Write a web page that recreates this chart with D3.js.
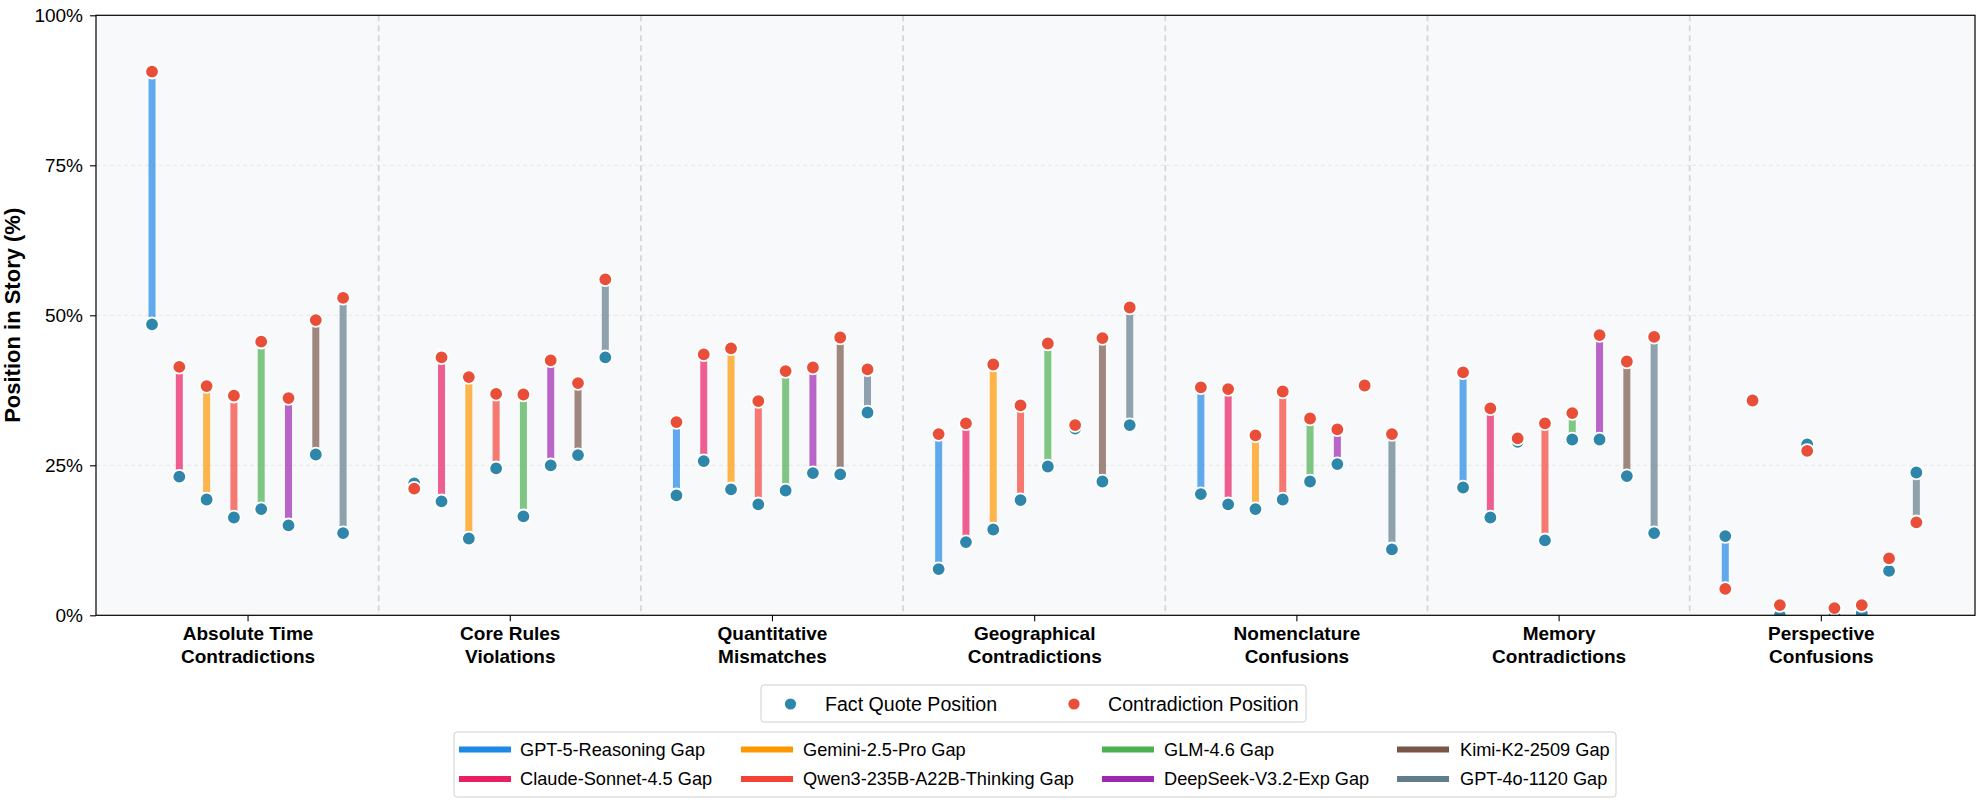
<!DOCTYPE html>
<html>
<head>
<meta charset="utf-8">
<script src="https://cdn.jsdelivr.net/npm/d3@7/dist/d3.min.js"></script>
<style>
  html, body { margin: 0; padding: 0; background: #ffffff; }
  svg { display: block; font-family: "Liberation Sans", Arial, Helvetica, sans-serif; }
</style>
</head>
<body>
<svg id="chart" width="1981" height="804"></svg>
<script>
// ---------------- DATA ----------------
const categories = [
  "Absolute Time\nContradictions",
  "Core Rules\nViolations",
  "Quantitative\nMismatches",
  "Geographical\nContradictions",
  "Nomenclature\nConfusions",
  "Memory\nContradictions",
  "Perspective\nConfusions"
];
const models = [
  "GPT-5-Reasoning", "Claude-Sonnet-4.5", "Gemini-2.5-Pro", "Qwen3-235B-A22B-Thinking",
  "GLM-4.6", "DeepSeek-V3.2-Exp", "Kimi-K2-2509", "GPT-4o-1120"
];
const modelColors = ["#1E88E5", "#E91E63", "#FF9800", "#F44336", "#4CAF50", "#9C27B0", "#795548", "#607D8B"];

// Fact quote position (%) per model, one value per category
const factPos = [
  [48.5, 22.0, 20.0,  7.7, 20.2, 21.3, 13.2],
  [23.1, 19.0, 25.7, 12.2, 18.5, 16.3, 35.8],
  [19.3, 12.8, 21.0, 14.3, 17.7, 28.9,  0.0],
  [16.3, 24.5, 18.5, 19.2, 19.3, 12.5, 28.5],
  [17.7, 16.5, 20.8, 24.8, 22.3, 29.3,  0.0],
  [15.0, 25.0, 23.7, 31.1, 25.2, 29.3,  0.3],
  [26.8, 26.7, 23.5, 22.3, 38.3, 23.2,  7.4],
  [13.7, 43.0, 33.8, 31.7, 11.0, 13.7, 23.8]
];
// Contradiction position (%) per model, one value per category
const contraPos = [
  [90.6, 21.1, 32.2, 30.2, 38.0, 40.5,  4.4],
  [41.4, 43.0, 43.5, 32.0, 37.7, 34.5, 35.8],
  [38.2, 39.7, 44.5, 41.8, 30.0, 29.5,  1.7],
  [36.6, 36.9, 35.7, 35.0, 37.3, 32.0, 27.4],
  [45.6, 36.8, 40.7, 45.3, 32.8, 33.7,  1.2],
  [36.2, 42.5, 41.3, 31.7, 31.0, 46.7,  1.7],
  [49.2, 38.7, 46.3, 46.2, 38.3, 42.3,  9.5],
  [52.9, 56.0, 41.0, 51.3, 30.2, 46.4, 15.5]
];
const yTicks = [0, 25, 50, 75, 100];
const factColor = "#2E86AB";
const contraColor = "#E84E38";

// ---------------- LAYOUT ----------------
const svg = d3.select("#chart");
const plot = { left: 96, right: 1975, top: 15.3, bottom: 615.3 };
const x = d3.scaleLinear().domain([-0.578, 6.588]).range([plot.left, plot.right]);
const y = d3.scaleLinear().domain([0, 100]).range([plot.bottom, plot.top]);
const offsetStep = 0.1041;
const off = j => (j - (models.length - 1) / 2) * offsetStep;

// plot background
svg.append("rect")
  .attr("x", plot.left).attr("y", plot.top)
  .attr("width", plot.right - plot.left).attr("height", plot.bottom - plot.top)
  .attr("fill", "#F8F9FA");

svg.append("clipPath").attr("id", "plotclip")
  .append("rect")
  .attr("x", plot.left).attr("y", plot.top)
  .attr("width", plot.right - plot.left).attr("height", plot.bottom - plot.top);

// horizontal grid
svg.append("g").selectAll("line")
  .data(yTicks.filter(d => d > 0 && d < 100))
  .join("line")
  .attr("x1", plot.left).attr("x2", plot.right)
  .attr("y1", d => y(d)).attr("y2", d => y(d))
  .attr("stroke", "#E3E3E3").attr("stroke-width", 0.8)
  .attr("stroke-dasharray", "4,3");

// category separators
svg.append("g").selectAll("line")
  .data(d3.range(categories.length - 1))
  .join("line")
  .attr("x1", d => x(d + 0.5)).attr("x2", d => x(d + 0.5))
  .attr("y1", plot.top).attr("y2", plot.bottom)
  .attr("stroke", "#D6D6D6").attr("stroke-width", 1.8)
  .attr("stroke-dasharray", "6,4");

// marks
const marks = svg.append("g").attr("clip-path", "url(#plotclip)");
models.forEach((m, j) => {
  const g = marks.append("g");
  const rows = categories.map((c, i) => ({ i, f: factPos[j][i], c: contraPos[j][i] }));
  g.selectAll("line.gap").data(rows).join("line")
    .attr("class", "gap")
    .attr("x1", d => x(d.i + off(j))).attr("x2", d => x(d.i + off(j)))
    .attr("y1", d => y(d.f)).attr("y2", d => y(d.c))
    .attr("stroke", modelColors[j]).attr("stroke-opacity", 0.7)
    .attr("stroke-width", 7);
  g.selectAll("circle.fact").data(rows).join("circle")
    .attr("class", "fact")
    .attr("cx", d => x(d.i + off(j))).attr("cy", d => y(d.f))
    .attr("r", 6.8).attr("fill", factColor)
    .attr("stroke", "#ffffff").attr("stroke-width", 1.8);
  g.selectAll("circle.contra").data(rows).join("circle")
    .attr("class", "contra")
    .attr("cx", d => x(d.i + off(j))).attr("cy", d => y(d.c))
    .attr("r", 6.8).attr("fill", contraColor)
    .attr("stroke", "#ffffff").attr("stroke-width", 1.8);
});

// frame
svg.append("rect")
  .attr("x", plot.left).attr("y", plot.top)
  .attr("width", plot.right - plot.left).attr("height", plot.bottom - plot.top)
  .attr("fill", "none").attr("stroke", "#000").attr("stroke-width", 1.2);

// y axis
const yAxis = svg.append("g")
  .attr("transform", `translate(${plot.left},0)`)
  .call(d3.axisLeft(y).tickValues(yTicks).tickFormat(d => d + "%").tickSize(6).tickPadding(7));
yAxis.select(".domain").remove();
yAxis.selectAll(".tick line").attr("stroke", "#000").attr("stroke-width", 1.1);
yAxis.selectAll(".tick text")
  .attr("font-size", 19).attr("fill", "#000")
  .attr("font-family", "'Liberation Sans', Arial, sans-serif");

// x axis
const xAxis = svg.append("g")
  .attr("transform", `translate(0,${plot.bottom})`)
  .call(d3.axisBottom(x).tickValues(d3.range(categories.length)).tickSize(6).tickFormat(""));
xAxis.select(".domain").remove();
xAxis.selectAll(".tick line").attr("stroke", "#000").attr("stroke-width", 1.1);
xAxis.selectAll(".tick text").remove();
xAxis.selectAll(".tick").each(function(d) {
  const t = d3.select(this).append("text")
    .attr("text-anchor", "middle")
    .attr("font-size", 19).attr("font-weight", "bold").attr("fill", "#000")
    .attr("font-family", "'Liberation Sans', Arial, sans-serif");
  categories[d].split("\n").forEach((line, k) => {
    t.append("tspan").attr("x", 0).attr("y", 24.3 + k * 23).text(line);
  });
});

// y label
svg.append("text")
  .attr("transform", `translate(19.5,${(plot.top + plot.bottom) / 2}) rotate(-90)`)
  .attr("text-anchor", "middle")
  .attr("font-size", 22).attr("font-weight", "bold").attr("fill", "#000")
  .text("Position in Story (%)");

// legend 1 (markers)
const leg1 = svg.append("g");
leg1.append("rect")
  .attr("x", 761).attr("y", 685).attr("width", 545).attr("height", 37)
  .attr("rx", 3).attr("fill", "#fff").attr("stroke", "#D0D0D0").attr("stroke-width", 1);
const markerLegend = [
  { label: "Fact Quote Position", color: factColor, cx: 790.5, tx: 825 },
  { label: "Contradiction Position", color: contraColor, cx: 1074, tx: 1108 }
];
markerLegend.forEach(d => {
  leg1.append("circle").attr("cx", d.cx).attr("cy", 704).attr("r", 5.6).attr("fill", d.color);
  leg1.append("text").attr("x", d.tx).attr("y", 704).attr("dy", "0.35em")
    .attr("font-size", 19.6).attr("fill", "#000").text(d.label);
});

// legend 2 (gap lines)
const leg2 = svg.append("g");
leg2.append("rect")
  .attr("x", 454).attr("y", 732).attr("width", 1162).attr("height", 65)
  .attr("rx", 3).attr("fill", "#fff").attr("stroke", "#D0D0D0").attr("stroke-width", 1);
const colHandleX = [459, 741, 1102, 1397];
const colTextX = [520, 803, 1164, 1460];
const rowY = [749.5, 779];
models.forEach((m, j) => {
  const col = Math.floor(j / 2), row = j % 2;
  leg2.append("line")
    .attr("x1", colHandleX[col]).attr("x2", colHandleX[col] + 52)
    .attr("y1", rowY[row]).attr("y2", rowY[row])
    .attr("stroke", modelColors[j]).attr("stroke-width", 6);
  leg2.append("text")
    .attr("x", colTextX[col]).attr("y", rowY[row]).attr("dy", "0.35em")
    .attr("font-size", 18.2).attr("fill", "#000").text(m + " Gap");
});
</script>
</body>
</html>
